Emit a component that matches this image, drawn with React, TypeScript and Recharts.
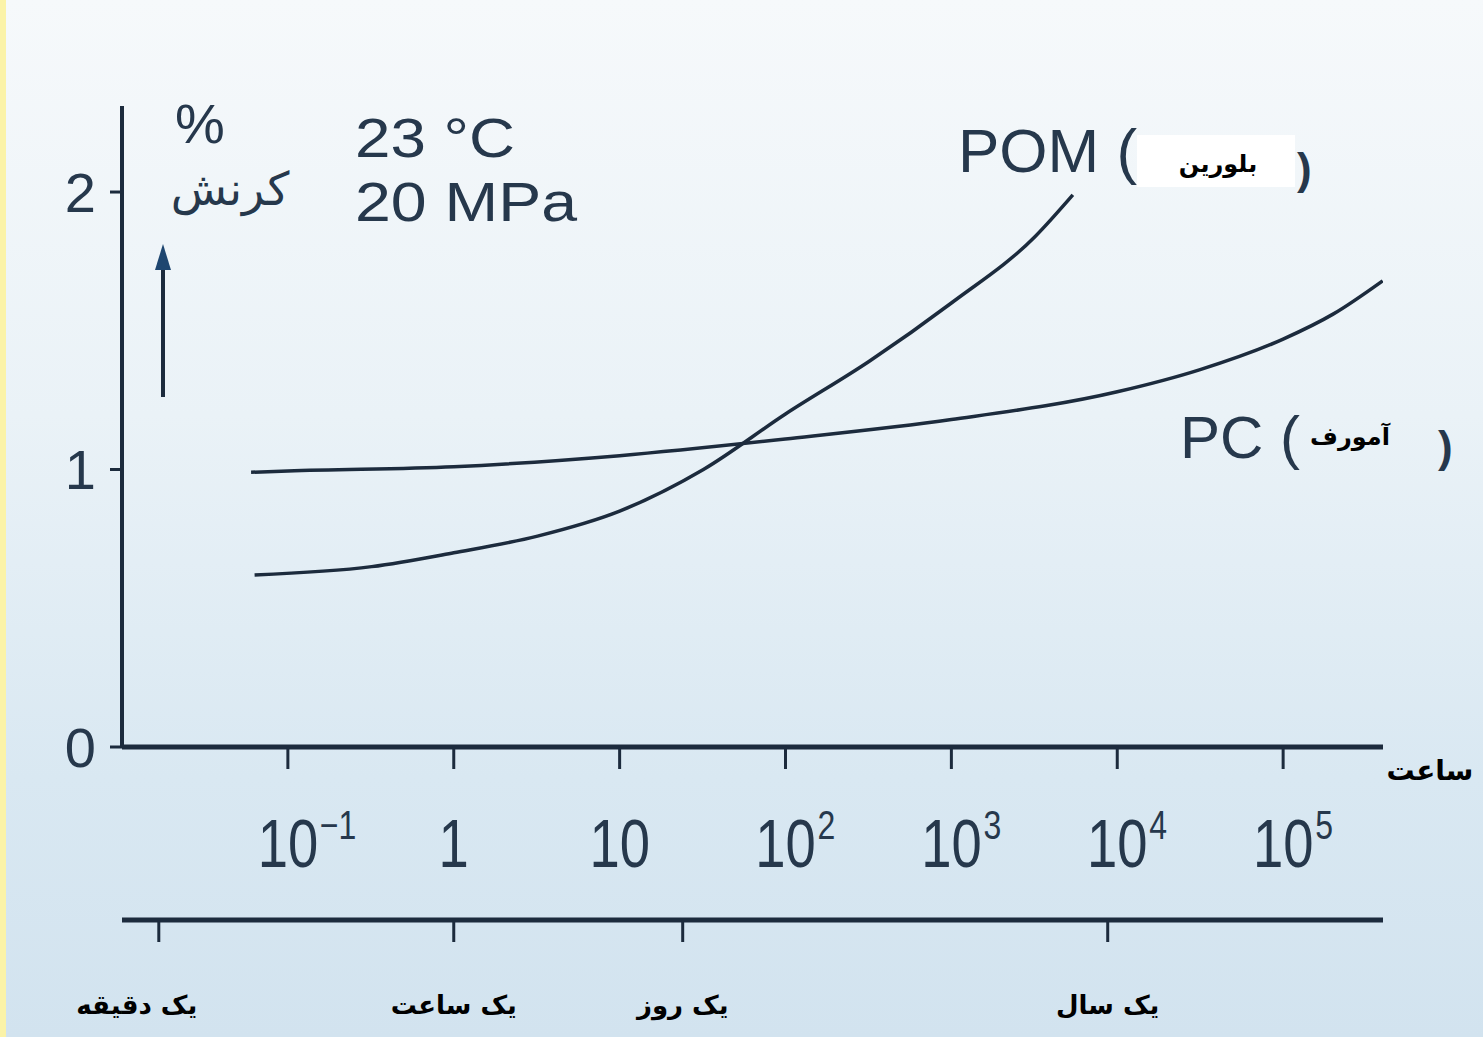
import React from 'react'
import { LineChart, Line, XAxis, YAxis } from 'recharts'

// creep strain (%) vs. load time (hours), 23 °C / 20 MPa
const pomHours = [0.063, 0.32, 1, 3.2, 10, 32, 100, 320, 1000, 3200, 5400]
const pomStrain = [0.62, 0.65, 0.7, 0.76, 0.85, 1.0, 1.2, 1.39, 1.6, 1.84, 1.99]

const pcHours = [0.06, 0.1, 1, 10, 100, 1000, 10000, 31600, 100000, 200000, 398000]
const pcStrain = [0.99, 0.995, 1.01, 1.05, 1.11, 1.18, 1.28, 1.36, 1.47, 1.56, 1.68]

const hourTicks = [0.1, 1, 10, 100, 1000, 10000, 100000]
const hourTickBase = ['10', '1', '10', '10', '10', '10', '10']
const hourTickExp = ['−1', '', '', '2', '3', '4', '5']

const spanTicks = [1 / 60, 1, 24, 8760]
const spanLabels = ['یک دقیقه', 'یک ساعت', 'یک روز', 'یک سال']

const strainTicks = [0, 1, 2]

const pomData = pomHours.map((h, i) => ({ h, strain: pomStrain[i] }))
const pcData = pcHours.map((h, i) => ({ h, strain: pcStrain[i] }))

const INK = '#1c2b3d'
const TEXT = '#26384c'
const LATIN = "'Liberation Sans', Arial, sans-serif"
const PERSIAN = "'DejaVu Sans', 'Noto Sans', sans-serif"

const HourTick = (props: any) => {
  const { x, y, payload, index } = props
  const i = index ?? hourTicks.indexOf(payload.value)
  const base = hourTickBase[i]
  const exp = hourTickExp[i]
  // the printed numerals are condensed, so squeeze them horizontally
  return (
    <g transform={`translate(${x},${y}) scale(0.8,1)`} fill={TEXT} fontFamily={LATIN}>
      <text x={0} y={98} textAnchor="middle" fontSize={68}>
        {base}
      </text>
      {exp && (
        <text x={40} y={70} textAnchor="start" fontSize={40}>
          {exp}
        </text>
      )}
    </g>
  )
}

const SpanTick = (props: any) => {
  const { x, y, payload, index } = props
  const i = index ?? spanTicks.indexOf(payload.value)
  return (
    <text x={x - (i === 0 ? 22 : 0)} y={y + 72} textAnchor="middle" fontSize={26} fontWeight="bold" fontFamily={PERSIAN} fill="#000">
      {spanLabels[i]}
    </text>
  )
}

export default function App() {
  return (
    <div
      style={{
        position: 'absolute',
        left: 0,
        top: 0,
        width: 1483,
        height: 1037,
        background: 'linear-gradient(180deg, #f6f9fb 0%, #eaf2f7 40%, #d9e8f2 75%, #d2e3ef 100%)',
        borderLeft: '6px solid #fbf3a8',
        boxSizing: 'border-box',
        overflow: 'hidden',
      }}
    >
      <div style={{ position: 'absolute', left: -6, top: 0 }}>
        <LineChart width={1483} height={1037} margin={{ top: 106, right: 100, bottom: 0, left: 0 }}>
          <XAxis
            xAxisId="hours"
            dataKey="h"
            type="number"
            scale="log"
            domain={[0.01, 400000]}
            ticks={hourTicks}
            allowDataOverflow
            height={173}
            axisLine={{ stroke: INK, strokeWidth: 5 }}
            tickLine={{ stroke: INK, strokeWidth: 3 }}
            tickSize={22}
            tickMargin={0}
            tick={<HourTick />}
            interval={0}
          />
          <XAxis
            xAxisId="span"
            dataKey="h"
            type="number"
            scale="log"
            domain={[0.01, 400000]}
            ticks={spanTicks}
            allowDataOverflow
            height={117}
            axisLine={{ stroke: INK, strokeWidth: 5 }}
            tickLine={{ stroke: INK, strokeWidth: 3 }}
            tickSize={22}
            tickMargin={0}
            tick={<SpanTick />}
            interval={0}
          />
          <YAxis
            dataKey="strain"
            type="number"
            domain={[0, 2.31]}
            ticks={strainTicks}
            width={122}
            axisLine={{ stroke: INK, strokeWidth: 4 }}
            tickLine={{ stroke: INK, strokeWidth: 3 }}
            tickSize={12}
            tickMargin={14}
            tick={{ fill: TEXT, fontSize: 56, fontFamily: LATIN }}
          />
          <Line
            xAxisId="hours"
            data={pomData}
            dataKey="strain"
            type="monotone"
            stroke={INK}
            strokeWidth={3.5}
            dot={false}
            isAnimationActive={false}
          />
          <Line
            xAxisId="hours"
            data={pcData}
            dataKey="strain"
            type="monotone"
            stroke={INK}
            strokeWidth={3.5}
            dot={false}
            isAnimationActive={false}
          />
        </LineChart>
      </div>

      <svg
        width={1483}
        height={1037}
        style={{ position: 'absolute', left: -6, top: 0, pointerEvents: 'none' }}
      >
        <text x={175} y={143} fontSize={56} fontFamily={LATIN} fill={TEXT}>%</text>
        <text x={230} y={205} textAnchor="middle" fontSize={46} fontFamily={PERSIAN} fill={TEXT}>کرنش</text>
        <line x1={163} y1={397} x2={163} y2={262} stroke={INK} strokeWidth={4} />
        <polygon points="163,244 155,270 171,270" fill="#1e4670" />

        <text x={355} y={157} fontSize={56} textLength={160} lengthAdjust="spacingAndGlyphs" fontFamily={LATIN} fill={TEXT}>23 °C</text>
        <text x={355} y={221} fontSize={56} textLength={222} lengthAdjust="spacingAndGlyphs" fontFamily={LATIN} fill={TEXT}>20 MPa</text>

        <text x={958} y={172} fontSize={62} fontFamily={LATIN} fill={TEXT}>POM (</text>
        <rect x={1137} y={135} width={158} height={52} fill="#ffffff" />
        <text x={1218} y={172} textAnchor="middle" fontSize={24} fontWeight="bold" fontFamily={PERSIAN} fill="#000">بلورین</text>
        <text x={1297} y={184} fontSize={44} fontWeight="bold" fontFamily={LATIN} fill={TEXT}>)</text>

        <text x={1180} y={458} fontSize={60} fontFamily={LATIN} fill={TEXT}>PC (</text>
        <text x={1350} y={445} textAnchor="middle" fontSize={24} fontWeight="bold" fontFamily={PERSIAN} fill="#000">آمورف</text>
        <text x={1438} y={462} fontSize={44} fontWeight="bold" fontFamily={LATIN} fill={TEXT}>)</text>

        <text x={1430} y={780} textAnchor="middle" fontSize={28} fontWeight="bold" fontFamily={PERSIAN} fill="#000">ساعت</text>
      </svg>
    </div>
  )
}
